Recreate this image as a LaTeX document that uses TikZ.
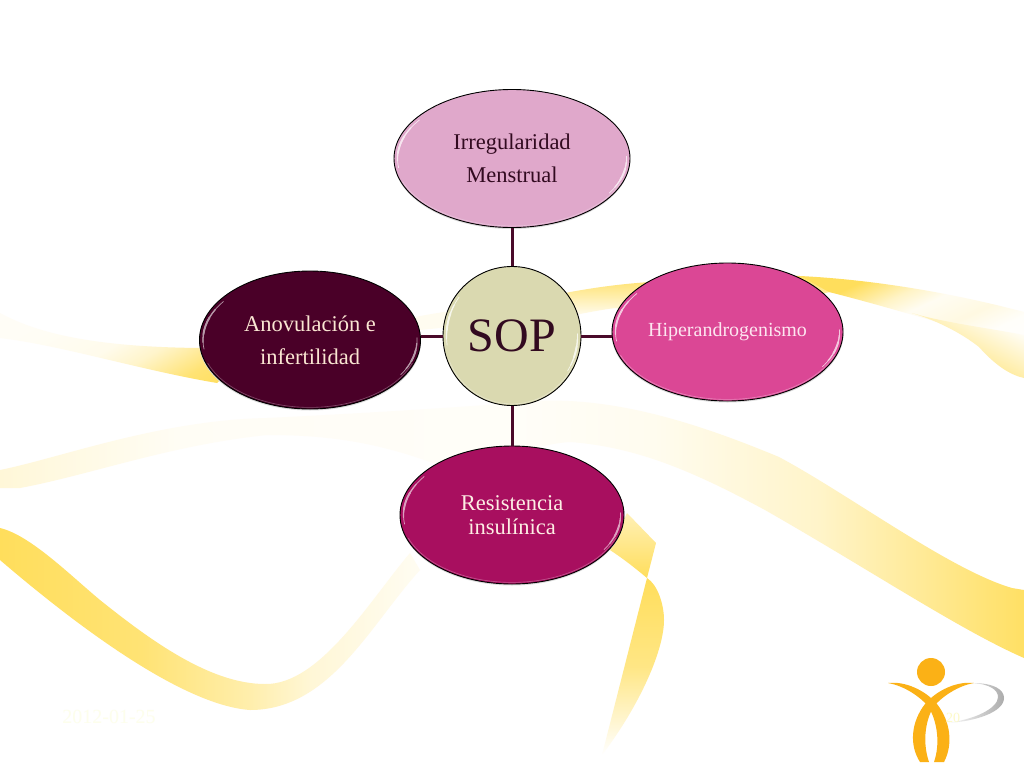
\documentclass[tikz,border=0pt]{standalone}
\usepackage{fontspec}
\setmainfont{Liberation Serif}
\usetikzlibrary{shapes.geometric}
\definecolor{ribY}{HTML}{FFDE5C}
\definecolor{logoO}{HTML}{FBB116}
\definecolor{linkC}{HTML}{4A0A2A}
\definecolor{fIrr}{HTML}{E0A8CB}
\definecolor{fHip}{HTML}{DB4795}
\definecolor{fRes}{HTML}{A80F5F}
\definecolor{fAno}{HTML}{4A0028}
\definecolor{fSop}{HTML}{DAD9B0}
\definecolor{tDark}{HTML}{320A20}
\definecolor{tHip}{HTML}{FDE6F0}
\definecolor{tRes}{HTML}{FDEEE4}
\definecolor{tAno}{HTML}{FAE6D2}
\definecolor{tDat}{HTML}{FDFEEC}
\definecolor{tNum}{HTML}{FDFAC8}
\pgfdeclarehorizontalshading{ribBig}{100bp}{color(0bp)=(ribY!24!white);color(25bp)=(ribY!24!white);color(34bp)=(ribY!6!white);color(50bp)=(ribY!4!white);color(57bp)=(ribY!10!white);color(65bp)=(ribY!33!white);color(75bp)=(ribY!95!white);color(100bp)=(ribY!95!white)}
\pgfdeclarehorizontalshading{ribLow}{100bp}{color(0bp)=(ribY);color(25bp)=(ribY);color(42bp)=(ribY!85!white);color(55bp)=(ribY!50!white);color(62bp)=(ribY!25!white);color(75bp)=(ribY!8!white);color(100bp)=(ribY!8!white)}
\pgfdeclarehorizontalshading{ribLeft}{100bp}{color(0bp)=(ribY!4!white);color(30bp)=(ribY!6!white);color(48bp)=(ribY!12!white);color(58bp)=(ribY!32!white);color(72bp)=(ribY!85!white);color(82bp)=(ribY);color(100bp)=(ribY)}
\pgfdeclarehorizontalshading{ribA}{100bp}{color(0bp)=(ribY);color(30bp)=(ribY);color(42bp)=(ribY!35!white);color(50bp)=(ribY!8!white);color(62bp)=(ribY!18!white);color(72bp)=(ribY!3!white);color(100bp)=(white)}
\tikzset{
  bub/.style={ellipse,draw=black,line width=.9pt,inner sep=0pt,align=center},
  link/.style={draw=linkC,line width=3pt},
  rib/.style={draw=none},
  rim/.style={line cap=round},
}
\newcommand{\glint}[6]{% name rx ry from to colour+width
  \draw[rim,#6,shift={(#1.center)}] ({(#2)*cos(#4)},{(#3)*sin(#4)}) arc[start angle=#4,end angle=#5,x radius=#2,y radius=#3];
}
\newcommand{\rimmarks}[5]{% name rx ry rimcolour glintcolour
  \draw[#4,line width=.6pt,shift={(#1.center)}] ({(#2-1.6)*cos(160)},{(#3-1.6)*sin(160)}) arc[start angle=160,end angle=20,x radius=#2-1.6,y radius=#3-1.6];
  \glint{#1}{#2-3.5}{#3-3.5}{172}{216}{#5,line width=.7pt}
  \glint{#1}{#2-3.5}{#3-3.5}{178}{208}{#5,line width=1.3pt}
  \glint{#1}{#2-3.5}{#3-3.5}{185}{200}{#5,line width=1.9pt}
  \glint{#1}{#2-3.5}{#3-3.5}{-2}{32}{#5,line width=.7pt}
  \glint{#1}{#2-3.5}{#3-3.5}{3}{26}{#5,line width=1.3pt}
  \glint{#1}{#2-3.5}{#3-3.5}{9}{19}{#5,line width=1.9pt}
}
\begin{document}
\begin{tikzpicture}[x=1pt,y=-1pt]
\useasboundingbox (0,0) rectangle (1024,768);
\fill[white] (0,0) rectangle (1024,768);
% ribbons
\shade[rib,shading=ribBig]
 (0,470) .. controls (60,458) and (160,420) .. (267,418) .. controls (350,414) and (450,408) .. (512,403)
 .. controls (600,392) and (690,420) .. (779,457) .. controls (850,495) and (950,570) .. (1012,588) -- (1024,590) -- (1024,658)
 .. controls (960,630) and (870,570) .. (765,510) .. controls (700,475) and (640,447) .. (570,442)
 .. controls (520,445) and (490,475) .. (433,463) .. controls (370,440) and (320,435) .. (267,435) .. controls (170,445) and (90,475) .. (20,488) -- (0,488) -- cycle;
\shade[rib,shading=ribLow]
 (0,528) .. controls (30,535) and (70,575) .. (100,600) .. controls (150,640) and (210,684) .. (265,684)
 .. controls (320,685) and (370,600) .. (410,553) -- (420,570)
 .. controls (370,625) and (330,710) .. (250,710) .. controls (180,705) and (70,620) .. (0,560) -- cycle;
\shade[rib,shading=ribLeft,shading angle=-60]
 (0,313) .. controls (40,335) and (100,347) .. (200,348) -- (240,360) -- (217,383)
 .. controls (140,370) and (60,345) .. (0,338) -- cycle;
\fill[ribY!9!white] (410,318) .. controls (430,314) and (450,311) .. (470,308) -- (470,325) -- (420,330) -- cycle;
\shade[rib,top color=ribY,middle color=ribY!75!white,bottom color=white]
 (560,294) .. controls (590,288) and (620,284) .. (650,282) .. controls (700,276) and (760,274) .. (800,276) -- (830,292) -- (700,320) -- (615,308)
 .. controls (600,310) and (585,313) .. (570,316) -- cycle;
\shade[rib,shading=ribA,shading angle=-65]
 (800,276) .. controls (880,280) and (960,295) .. (1024,312) -- (1024,345) .. controls (960,330) and (900,310) .. (829,292) -- cycle;
\shade[rib,top color=white,bottom color=ribY,shading angle=-28]
 (912,313) .. controls (940,322) and (1000,330) .. (1024,335) -- (1024,378) .. controls (1010,375) and (995,365) .. (979,347) .. controls (960,332) and (935,320) .. (912,313) -- cycle;
\shade[rib,top color=ribY!45!white,bottom color=ribY]
 (627,513) -- (656,543) -- (647,578) .. controls (635,568) and (625,560) .. (610,550) -- cycle;
\shade[rib,top color=ribY,bottom color=white,middle color=ribY!75!white]
 (647,578) .. controls (658,585) and (664,605) .. (664,620) .. controls (664,650) and (640,705) .. (602,755) -- cycle;
% logo
\fill[logoO] (931,672) circle[radius=14];
\fill[logoO] (888,683) .. controls (905,681) and (925,690) .. (937,704) .. controls (951,722) and (953,745) .. (944,762) -- (934,762)
  .. controls (940,745) and (938,722) .. (928,706) .. controls (920,697) and (905,686) .. (888,683) -- cycle;
\fill[logoO] (974,683) .. controls (957,681) and (937,690) .. (925,704) .. controls (911,722) and (909,745) .. (920,762) -- (929,762)
  .. controls (923,745) and (924,722) .. (934,706) .. controls (942,697) and (957,686) .. (974,683) -- cycle;
\shade[left color=white,right color=gray!65!white]
  (972,683) .. controls (995,683) and (1004,690) .. (1004,698) .. controls (1004,712) and (975,722) .. (945,723)
  .. controls (975,720) and (998,708) .. (998,697) .. controls (998,690) and (990,684) .. (972,683) -- cycle;
% soft shadows
\foreach \cx/\cy/\rx in {512/160/118,727.5/333.5/116,512/516.5/112,310/341.5/111}{
  \fill[black!14] (\cx,\cy) ellipse[x radius=\rx,y radius=69];
}
% bubbles
\node[bub,fill=fIrr,minimum width=236pt,minimum height=138pt,text=tDark,font=\fontsize{22.5}{33}\selectfont] (irr) at (512,158.5) {Irregularidad\\Menstrual};
\node[bub,fill=fHip,minimum width=231pt,minimum height=138pt,text=tHip,font=\fontsize{20}{25}\selectfont] (hip) at (727.5,332) {\raisebox{-1.5pt}{Hiperandrogenismo}};
\node[bub,fill=fRes,minimum width=224pt,minimum height=138pt,text=tRes,font=\fontsize{22.5}{24}\selectfont] (res) at (512,515) {Resistencia\\insulínica};
\node[bub,fill=fAno,minimum width=221pt,minimum height=138pt,text=tAno,font=\fontsize{22.5}{33}\selectfont] (ano) at (310,340) {Anovulación e\\infertilidad};
\node[bub,fill=fSop,minimum width=138pt,minimum height=139pt,text=tDark,font=\fontsize{48}{50}\selectfont] (sop) at (512,336) {SOP};
% connectors
\draw[link] (sop.north) -- (sop.north |- irr.south);
\draw[link] (sop.south) -- (sop.south |- res.north);
\draw[link] (sop.east) -- (sop.east -| hip.west);
\draw[link] (sop.west) -- (sop.west -| ano.east);
% bevels
\rimmarks{irr}{118}{69}{white!30!fIrr}{white!70!fIrr}
\rimmarks{hip}{115.5}{69}{white!35!fHip}{white!70!fHip}
\rimmarks{res}{112}{69}{white!30!fRes}{white!60!fRes}
\rimmarks{ano}{110.5}{69}{white!30!fAno}{white!60!fAno}
\rimmarks{sop}{69}{69.5}{white!35!fSop}{white!75!fSop}
% faint footer
\node[text=tDat,font=\fontsize{20}{22}\selectfont,inner sep=0pt] (dat) at (109,717) {2012-01-25};
\node[text=tNum,font=\fontsize{14}{16}\selectfont,inner sep=0pt] (num) at (953,718) {20};
\end{tikzpicture}
\end{document}
